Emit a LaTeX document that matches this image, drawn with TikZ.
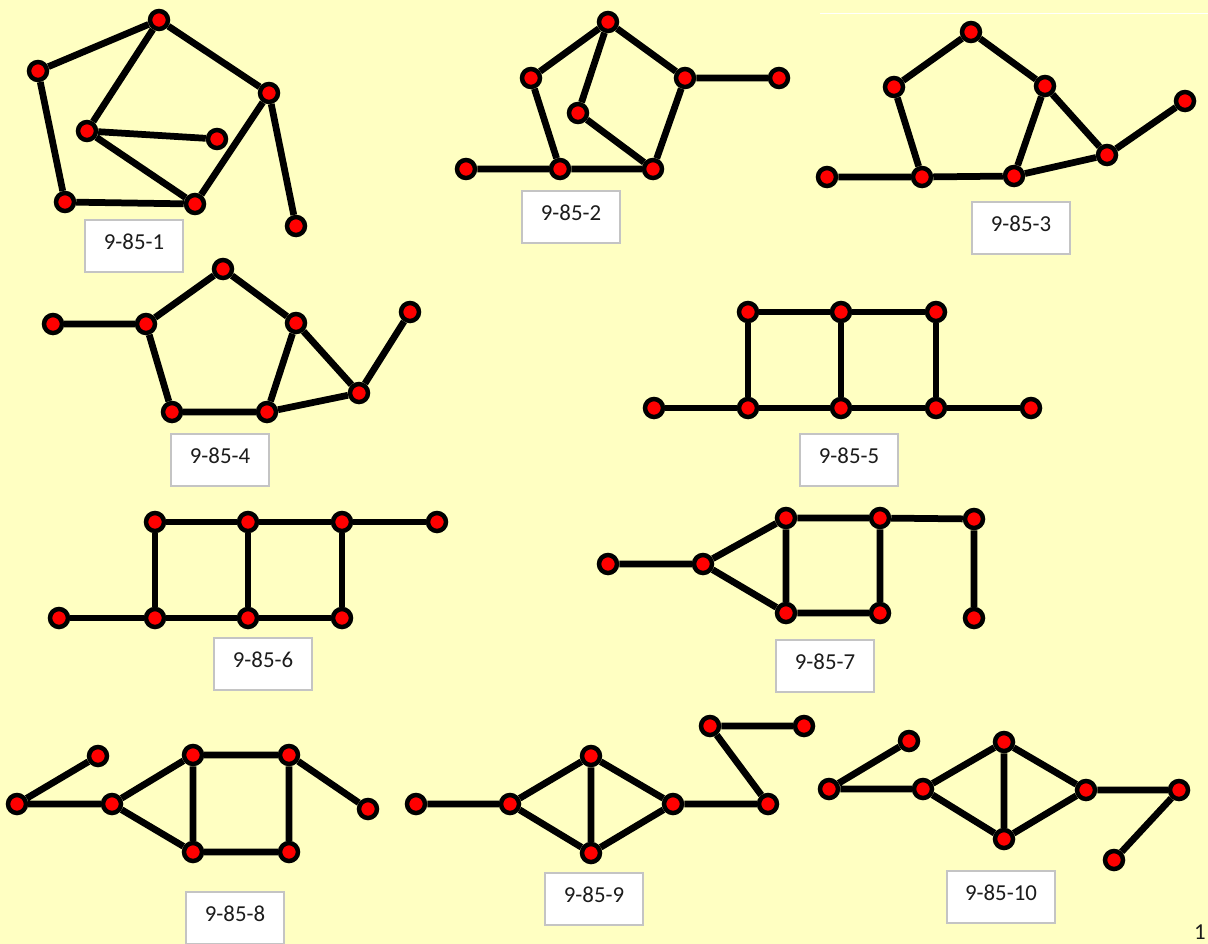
\documentclass[tikz,border=0pt]{standalone}
\usepackage{fontspec}
\setmainfont{Carlito}
\definecolor{bgyellow}{HTML}{FFFFC2}
\definecolor{boxedge}{HTML}{C4C4C4}
\definecolor{labeltext}{HTML}{1C1C1C}
\pgfdeclarelayer{bg}
\pgfsetlayers{bg,main}
\tikzset{
  vtx/.style={circle, fill=red, draw=black, line width=0.09cm, minimum size=0.36cm, inner sep=0pt},
  edg/.style={line width=0.135cm, black},
  labelbox/.style={draw=boxedge, line width=0.03cm, fill=white, minimum width=1.96cm, minimum height=1.04cm, inner sep=0pt, text height=0.3cm, text depth=0.16cm, text=labeltext, font=\fontsize{13}{15}\selectfont},
}
\begin{document}
\begin{tikzpicture}[x=0.02cm, y=-0.02cm]
\useasboundingbox (0,0) rectangle (1208,944);
\clip (0,0) rectangle (1208,944);
\begin{pgfonlayer}{bg}
\fill[bgyellow] (0,0) rectangle (1208,944);
\draw[white, line width=0.02cm] (820,13) -- (1208,13);
\end{pgfonlayer}

% ---------- 9-85-1 ----------
\node[vtx] (a1) at (159,20) {};
\node[vtx] (b1) at (38,71) {};
\node[vtx] (c1) at (269,93) {};
\node[vtx] (d1) at (87,131) {};
\node[vtx] (e1) at (217,139) {};
\node[vtx] (f1) at (65,202) {};
\node[vtx] (g1) at (195,204) {};
\node[vtx] (h1) at (296,226) {};
\node[labelbox] (l1) at (134,246) {9-85-1};
\begin{pgfonlayer}{bg}
\draw[edg] (a1) -- (b1) (a1) -- (c1) (a1) -- (d1) (b1) -- (f1) (f1) -- (g1)
  (d1) -- (e1) (d1) -- (g1) (g1) -- (c1) (c1) -- (h1);
\end{pgfonlayer}

% ---------- 9-85-2 ----------
\node[vtx] (a2) at (608,22) {};
\node[vtx] (b2) at (531,78) {};
\node[vtx] (c2) at (685,78) {};
\node[vtx] (d2) at (779,78) {};
\node[vtx] (e2) at (578,113) {};
\node[vtx] (f2) at (466,169) {};
\node[vtx] (g2) at (560,169) {};
\node[vtx] (h2) at (653,169) {};
\node[labelbox] (l2) at (571,217) {9-85-2};
\begin{pgfonlayer}{bg}
\draw[edg] (a2) -- (b2) (a2) -- (c2) (a2) -- (e2) (b2) -- (g2) (e2) -- (h2)
  (c2) -- (h2) (c2) -- (d2) (f2) -- (g2) (g2) -- (h2);
\end{pgfonlayer}

% ---------- 9-85-3 ----------
\node[vtx] (a3) at (971,32) {};
\node[vtx] (b3) at (894,87) {};
\node[vtx] (c3) at (1045,86) {};
\node[vtx] (d3) at (1185,101) {};
\node[vtx] (e3) at (1107,155) {};
\node[vtx] (f3) at (827,177) {};
\node[vtx] (g3) at (922,177) {};
\node[vtx] (h3) at (1014,176) {};
\node[labelbox] (l3) at (1021,228) {9-85-3};
\begin{pgfonlayer}{bg}
\draw[edg] (a3) -- (b3) (a3) -- (c3) (b3) -- (g3) (c3) -- (h3) (c3) -- (e3)
  (h3) -- (e3) (e3) -- (d3) (f3) -- (g3) (g3) -- (h3);
\end{pgfonlayer}

% ---------- 9-85-4 ----------
\node[vtx] (a4) at (53,324) {};
\node[vtx] (b4) at (146,324) {};
\node[vtx] (c4) at (223,269) {};
\node[vtx] (d4) at (296,323) {};
\node[vtx] (e4) at (410,312) {};
\node[vtx] (f4) at (359,393) {};
\node[vtx] (g4) at (172,412) {};
\node[vtx] (h4) at (267,412) {};
\node[labelbox] (l4) at (220,460) {9-85-4};
\begin{pgfonlayer}{bg}
\draw[edg] (a4) -- (b4) (b4) -- (c4) (c4) -- (d4) (b4) -- (g4) (g4) -- (h4)
  (h4) -- (d4) (d4) -- (f4) (h4) -- (f4) (f4) -- (e4);
\end{pgfonlayer}

% ---------- 9-85-5 ----------
\node[vtx] (a5) at (748,312) {};
\node[vtx] (b5) at (841,312) {};
\node[vtx] (c5) at (936,312) {};
\node[vtx] (d5) at (654,408) {};
\node[vtx] (e5) at (748,408) {};
\node[vtx] (f5) at (841,408) {};
\node[vtx] (g5) at (936,408) {};
\node[vtx] (h5) at (1031,408) {};
\node[labelbox] (l5) at (849,460) {9-85-5};
\begin{pgfonlayer}{bg}
\draw[edg] (a5) -- (b5) (b5) -- (c5) (a5) -- (e5) (b5) -- (f5) (c5) -- (g5)
  (d5) -- (e5) (e5) -- (f5) (f5) -- (g5) (g5) -- (h5);
\end{pgfonlayer}

% ---------- 9-85-6 ----------
\node[vtx] (a6) at (155,522) {};
\node[vtx] (b6) at (248,522) {};
\node[vtx] (c6) at (342,522) {};
\node[vtx] (d6) at (437,522) {};
\node[vtx] (e6) at (59,618) {};
\node[vtx] (f6) at (155,618) {};
\node[vtx] (g6) at (248,618) {};
\node[vtx] (h6) at (342,618) {};
\node[labelbox] (l6) at (263,664) {9-85-6};
\begin{pgfonlayer}{bg}
\draw[edg] (a6) -- (b6) (b6) -- (c6) (c6) -- (d6) (e6) -- (f6) (f6) -- (g6)
  (g6) -- (h6) (a6) -- (f6) (b6) -- (g6) (c6) -- (h6);
\end{pgfonlayer}

% ---------- 9-85-7 ----------
\node[vtx] (a7) at (608,564) {};
\node[vtx] (b7) at (703,564) {};
\node[vtx] (c7) at (786,518) {};
\node[vtx] (d7) at (786,613) {};
\node[vtx] (e7) at (880,518) {};
\node[vtx] (f7) at (880,613) {};
\node[vtx] (g7) at (974,519) {};
\node[vtx] (h7) at (974,618) {};
\node[labelbox] (l7) at (825,666) {9-85-7};
\begin{pgfonlayer}{bg}
\draw[edg] (a7) -- (b7) (b7) -- (c7) (b7) -- (d7) (c7) -- (d7) (c7) -- (e7)
  (d7) -- (f7) (e7) -- (f7) (e7) -- (g7) (g7) -- (h7);
\end{pgfonlayer}

% ---------- 9-85-8 ----------
\node[vtx] (a8) at (17,804) {};
\node[vtx] (b8) at (98,756) {};
\node[vtx] (c8) at (112,804) {};
\node[vtx] (d8) at (193,755) {};
\node[vtx] (e8) at (193,852) {};
\node[vtx] (f8) at (289,755) {};
\node[vtx] (g8) at (289,852) {};
\node[vtx] (h8) at (368,809) {};
\node[labelbox] (l8) at (235,918) {9-85-8};
\begin{pgfonlayer}{bg}
\draw[edg] (a8) -- (b8) (a8) -- (c8) (c8) -- (d8) (c8) -- (e8) (d8) -- (e8)
  (d8) -- (f8) (e8) -- (g8) (f8) -- (g8) (f8) -- (h8);
\end{pgfonlayer}

% ---------- 9-85-9 ----------
\node[vtx] (a9) at (416,804) {};
\node[vtx] (b9) at (510,804) {};
\node[vtx] (c9) at (591,756) {};
\node[vtx] (d9) at (591,853) {};
\node[vtx] (e9) at (673,804) {};
\node[vtx] (f9) at (768,804) {};
\node[vtx] (g9) at (710,726) {};
\node[vtx] (h9) at (804,726) {};
\node[labelbox] (l9) at (594,899) {9-85-9};
\begin{pgfonlayer}{bg}
\draw[edg] (a9) -- (b9) (b9) -- (c9) (b9) -- (d9) (c9) -- (d9) (c9) -- (e9)
  (d9) -- (e9) (e9) -- (f9) (f9) -- (g9) (g9) -- (h9);
\end{pgfonlayer}

% ---------- 9-85-10 ----------
\node[vtx] (a10) at (829,789) {};
\node[vtx] (b10) at (909,741) {};
\node[vtx] (c10) at (923,789) {};
\node[vtx] (d10) at (1004,742) {};
\node[vtx] (e10) at (1004,839) {};
\node[vtx] (f10) at (1086,790) {};
\node[vtx] (g10) at (1179,790) {};
\node[vtx] (h10) at (1114,860) {};
\node[labelbox, minimum width=2.16cm] (l10) at (1001,897) {9-85-10};
\begin{pgfonlayer}{bg}
\draw[edg] (a10) -- (b10) (a10) -- (c10) (c10) -- (d10) (c10) -- (e10) (d10) -- (e10)
  (d10) -- (f10) (e10) -- (f10) (f10) -- (g10) (g10) -- (h10);
\end{pgfonlayer}

% page number fragment
\node[anchor=east, inner sep=0pt, text=labeltext, font=\fontsize{13}{15}\selectfont] (pg) at (1206,932) {1};
\end{tikzpicture}
\end{document}
